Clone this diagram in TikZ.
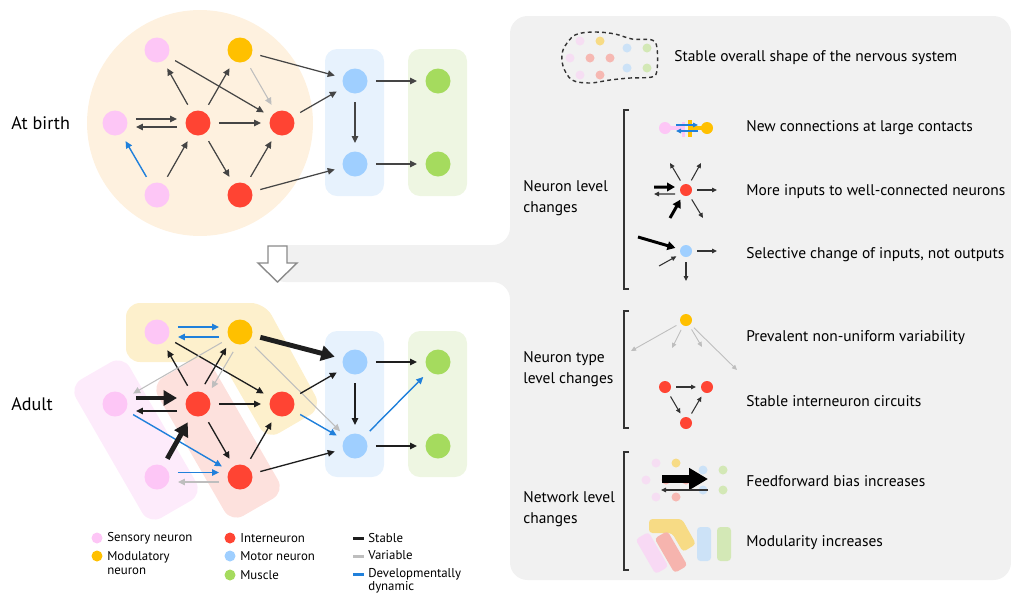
\documentclass[tikz,border=0pt]{standalone}
\usepackage{fontspec}
\setmainfont{PT Sans}
\usetikzlibrary{arrows.meta}

\definecolor{sensory}{HTML}{FDC6F6}
\definecolor{modul}{HTML}{FFC000}
\definecolor{inter}{HTML}{FF4433}
\definecolor{motor}{HTML}{9FCFFF}
\definecolor{muscle}{HTML}{A5DB5E}
\definecolor{birthgrey}{HTML}{454545}
\definecolor{stablec}{HTML}{1E1E1E}
\definecolor{varc}{HTML}{BEBEBE}
\definecolor{dync}{HTML}{2080DB}
\definecolor{panel}{HTML}{F1F1F1}
\definecolor{peach}{HTML}{FEF1DF}
\definecolor{boxblue}{HTML}{E7F2FD}
\definecolor{boxgreen}{HTML}{EEF6E2}
\definecolor{modyellow}{HTML}{FDF0CC}
\definecolor{modred}{HTML}{FDE1DD}
\definecolor{modpink}{HTML}{FDEBFB}
\definecolor{hollowgrey}{HTML}{8A8A8A}
\definecolor{inkgrey}{HTML}{333333}

\newcommand\labtext{\fontsize{10.3}{12}\selectfont}
\newcommand\paneltext{\fontsize{8.8}{11.9}\selectfont}
\newcommand\legtext{\fontsize{7.3}{7.6}\selectfont}

\tikzset{
  neuron/.style={circle, inner sep=0pt, minimum size=0.5cm, outer sep=0.17cm},
  icondot/.style={circle, inner sep=0pt, minimum size=0.24cm, outer sep=0.1cm},
  ghost/.style={circle, inner sep=0pt, minimum size=0.18cm},
  ldot/.style={circle, inner sep=0pt, minimum size=0.22cm},
  headthin/.style={-{Triangle[length=0.14cm,width=0.13cm]}},
  birth/.style={draw=birthgrey, line width=0.7pt, headthin},
  stab/.style={draw=stablec, line width=0.75pt, headthin},
  strong/.style={draw=stablec, line width=2.8pt, -{Triangle[length=0.27cm,width=0.3cm]}},
  var/.style={draw=varc, line width=0.6pt, headthin},
  dyn/.style={draw=dync, line width=0.8pt, headthin},
  module/.style={rectangle, rounded corners=0.28cm, minimum width=3.2cm, minimum height=1.24cm, rotate=-60},
  box/.style={rounded corners=0.24cm},
  smallhead/.style={-{Triangle[length=0.1cm,width=0.09cm]}},
  iconarr/.style={draw=inkgrey, line width=0.6pt, smallhead},
  iconstrong/.style={draw=black, line width=1.7pt, -{Triangle[length=0.16cm,width=0.17cm]}},
  bracket/.style={draw=inkgrey, line width=0.8pt},
  ptext/.style={anchor=west, align=left, inner sep=0pt, font=\paneltext},
  ltext/.style={anchor=west, align=left, inner sep=0pt, font=\legtext},
}

\begin{document}
\begin{tikzpicture}[x=0.02cm, y=-0.02cm]
\useasboundingbox (0,0) rectangle (1011,596);

% grey panel and bridge
\fill[panel, rounded corners=0.35cm] (268,245) -- (510,245) -- (510,16) -- (1011,16)
  -- (1011,580) -- (510,580) -- (510,282) -- (268,282) -- cycle;

% at birth
\fill[peach] (200,123) circle[radius=2.26cm];
\fill[boxblue, box] (325,49) rectangle (384,196);
\fill[boxgreen, box] (408,49) rectangle (467,196);

\node[neuron, fill=sensory] (bS1) at (157,50) {};
\node[neuron, fill=modul] (bM) at (240,50) {};
\node[neuron, fill=sensory] (bS2) at (115,123) {};
\node[neuron, fill=inter] (bI1) at (198,123) {};
\node[neuron, fill=inter] (bI2) at (282,123) {};
\node[neuron, fill=sensory] (bS3) at (157,195) {};
\node[neuron, fill=inter] (bI3) at (240,195) {};
\node[neuron, fill=motor] (bMo1) at (355,81) {};
\node[neuron, fill=motor] (bMo2) at (355,164) {};
\node[neuron, fill=muscle] (bMu1) at (438,81) {};
\node[neuron, fill=muscle] (bMu2) at (438,164) {};
\node[anchor=west, inner sep=0pt, font=\labtext] (birthlab) at (11,123) {At birth};

\draw[birth] (bI1) -- (bS1);
\draw[birth] (bI1) -- (bM);
\draw[birth] (bS1) -- (bI2);
\draw[var] (bM) -- (bI2);
\draw[birth] (bM) -- (bMo1);
\draw[birth] ([yshift=0.08cm]bS2.east) -- ([yshift=0.08cm]bI1.west);
\draw[birth] ([yshift=-0.08cm]bI1.west) -- ([yshift=-0.08cm]bS2.east);
\draw[birth] (bI1) -- (bI2);
\draw[dyn] (bS3) -- (bS2);
\draw[birth] (bS3) -- (bI1);
\draw[birth] (bI1) -- (bI3);
\draw[birth] (bI3) -- (bI2);
\draw[birth] (bI2) -- (bMo1);
\draw[birth] (bI3) -- (bMo2);
\draw[birth] (bMo1) -- (bMo2);
\draw[birth] (bMo1) -- (bMu1);
\draw[birth] (bMo2) -- (bMu2);

% hollow arrow
\draw[hollowgrey, fill=white, line width=0.8pt] (268,246) -- (287,246) -- (287,263) -- (297,263)
  -- (277.5,282) -- (258,263) -- (268,263) -- cycle;

% adult
\fill[modyellow, rounded corners=0.28cm] (126,303) -- (265,303) -- (322,408) -- (267,440)
  -- (222,362) -- (126,362) -- cycle;
\node[module, fill=modpink] (pinkmod) at (136,440) {};
\node[module, fill=modred] (redmod) at (218,438) {};
\fill[boxblue, box] (325,331) rectangle (384,477);
\fill[boxgreen, box] (408,331) rectangle (467,477);

\node[neuron, fill=sensory] (aS1) at (157,332) {};
\node[neuron, fill=modul] (aM) at (240,332) {};
\node[neuron, fill=sensory] (aS2) at (115,404) {};
\node[neuron, fill=inter] (aI1) at (198,404) {};
\node[neuron, fill=inter] (aI2) at (282,404) {};
\node[neuron, fill=sensory] (aS3) at (157,477) {};
\node[neuron, fill=inter] (aI3) at (240,477) {};
\node[neuron, fill=motor] (aMo1) at (355,362) {};
\node[neuron, fill=motor] (aMo2) at (355,446) {};
\node[neuron, fill=muscle] (aMu1) at (438,362) {};
\node[neuron, fill=muscle] (aMu2) at (438,446) {};
\node[anchor=west, inner sep=0pt, font=\labtext] (adultlab) at (11,404) {Adult};

\draw[dyn] ([yshift=0.1cm]aS1.east) -- ([yshift=0.1cm]aM.west);
\draw[dyn] ([yshift=-0.1cm]aM.west) -- ([yshift=-0.1cm]aS1.east);
\draw[strong] (aM) -- (aMo1);
\draw[stab] (aI1) -- (aS1);
\draw[stab] (aS1) -- (aI2);
\draw[stab] (aI1.71) -- (aM.229);
\draw[var] (aM.251) -- (aI1.49);
\draw[var] (aM) -- (aS2);
\draw[var] (aM) -- (aMo2);
\draw[strong] ([yshift=0.12cm]aS2.east) -- ([yshift=0.12cm]aI1.west);
\draw[stab] ([yshift=-0.14cm]aI1.west) -- ([yshift=-0.14cm]aS2.east);
\draw[dyn] (aS2) -- (aI3);
\draw[stab] (aI1) -- (aI2);
\draw[strong] (aS3) -- (aI1);
\draw[stab] (aI1) -- (aI3);
\draw[stab] (aI3) -- (aI2);
\draw[dyn] ([yshift=0.09cm]aS3.east) -- ([yshift=0.09cm]aI3.west);
\draw[var] ([yshift=-0.1cm]aI3.west) -- ([yshift=-0.1cm]aS3.east);
\draw[stab] (aI3) -- (aMo2);
\draw[stab] (aI2) -- (aMo1);
\draw[dyn] (aI2) -- (aMo2);
\draw[stab] (aMo1) -- (aMo2);
\draw[stab] (aMo1) -- (aMu1);
\draw[stab] (aMo2) -- (aMu2);
\draw[dyn] (aMo2) -- (aMu1);

% legend
\node[ldot, fill=sensory] (lgS) at (97,538) {};
\node[ldot, fill=modul] (lgM) at (97,556) {};
\node[ldot, fill=inter] (lgI) at (230,538) {};
\node[ldot, fill=motor] (lgMo) at (230,556) {};
\node[ldot, fill=muscle] (lgMu) at (230,575) {};
\node[ltext] (lgSt) at (107,538) {Sensory neuron};
\node[ltext] (lgMt) at (107,563) {Modulatory\\neuron};
\node[ltext] (lgIt) at (240,538) {Interneuron};
\node[ltext] (lgMot) at (240,556) {Motor neuron};
\node[ltext] (lgMut) at (240,575) {Muscle};
\draw[stablec, line width=1.7pt] (353,538) -- (364,538);
\draw[varc, line width=1.7pt] (353,556) -- (364,556);
\draw[dync, line width=1.7pt] (353,574) -- (364,574);
\node[ltext] (lgStab) at (368,538) {Stable};
\node[ltext] (lgVar) at (368,555) {Variable};
\node[ltext] (lgDyn) at (368,580.5) {Developmentally\\dynamic};

% right panel: overall shape
\draw[inkgrey, line width=0.8pt, dash pattern=on 2.2pt off 1.8pt]
  plot[smooth cycle, tension=0.55] coordinates {(575,35) (595,32) (615,34) (632,39) (652,40)
  (657,48) (657,70) (652,77) (630,78) (610,80) (590,83) (572,80) (563,66) (563,50)};
\foreach \gx/\gy/\gc in {580/41/sensory!45!panel, 600/41/modul!45!panel, 570/58/sensory!45!panel,
  590/58/inter!33!panel, 610/58/inter!33!panel, 580/75/sensory!45!panel, 600/75/inter!33!panel,
  627/48/motor!45!panel, 647/48/muscle!40!panel, 627/68/motor!45!panel, 647/68/muscle!40!panel}
  \node[ghost, fill=\gc] (blob-\gx-\gy) at (\gx,\gy) {};
\node[ptext] (shapetxt) at (674,58) {Stable overall shape of the nervous system};

% neuron level
\draw[bracket] (629,110) -- (624,110) -- (624,289) -- (629,289);
\node[ptext] (neurlev) at (523,198.5) {Neuron level\\changes};

\draw[sensory, line width=2.2pt] (665,128) -- (683,128);
\fill[sensory] (681.5,122) rectangle (684.5,137);
\draw[modul, line width=2.2pt] (690,128) -- (707,128);
\fill[modul] (688,120) rectangle (692,137);
\node[icondot, fill=sensory] (nP) at (665,128) {};
\node[icondot, fill=modul] (nO) at (707,128) {};
\coordinate (c1a) at (676,125); \coordinate (c1b) at (698,125);
\coordinate (c1c) at (698,131); \coordinate (c1d) at (676,131);
\draw[dync, line width=0.6pt, smallhead] (c1a) -- (c1b);
\draw[dync, line width=0.6pt, smallhead] (c1c) -- (c1d);
\node[ptext] (newcon) at (746,128) {New connections at large contacts};

\node[icondot, fill=inter] (nR) at (686,190) {};
\coordinate (r2ul) at (670,163); \coordinate (r2ur) at (701,163);
\coordinate (r2r) at (717,190); \coordinate (r2dr) at (703,218);
\coordinate (r2in1) at (654,187); \coordinate (r2in2) at (654,194);
\coordinate (r2in3) at (670,218);
\draw[iconarr] (nR) -- (r2ul);
\draw[iconarr] (nR) -- (r2ur);
\draw[iconarr] (nR) -- (r2r);
\draw[iconarr] (nR) -- (r2dr);
\draw[iconstrong] (r2in1) -- ([yshift=0.06cm]nR.west);
\draw[iconarr] ([yshift=-0.08cm]nR.west) -- (r2in2);
\draw[iconstrong] (r2in3) -- (nR);
\node[ptext] (moreinp) at (746,192) {More inputs to well-connected neurons};

\node[icondot, fill=motor] (nB) at (686,251) {};
\coordinate (r3in1) at (638,237); \coordinate (r3in2) at (659,266);
\coordinate (r3r) at (717,251); \coordinate (r3d) at (686,281);
\draw[iconstrong] (r3in1) -- (nB);
\draw[iconarr] (r3in2) -- (nB);
\draw[iconarr] (nB) -- (r3r);
\draw[iconarr] (nB) -- (r3d);
\node[ptext] (selch) at (746,255) {Selective change of inputs, not outputs};

% neuron type level
\draw[bracket] (629,311) -- (624,311) -- (624,428) -- (629,428);
\node[ptext] (typelev) at (523,369) {Neuron type\\level changes};

\node[icondot, fill=modul] (nO2) at (686,320) {};
\coordinate (t1) at (631,351); \coordinate (t2) at (672,348);
\coordinate (t3) at (702,347); \coordinate (t4) at (737,370);
\draw[varc, line width=0.5pt, smallhead] (nO2) -- (t1);
\draw[varc, line width=0.5pt, smallhead] (nO2) -- (t2);
\draw[varc, line width=0.5pt, smallhead] (nO2) -- (t3);
\draw[varc, line width=0.5pt, smallhead] (nO2) -- (t4);
\node[ptext] (prevar) at (746,338) {Prevalent non-uniform variability};

\node[icondot, fill=inter] (nI1) at (665,387) {};
\node[icondot, fill=inter] (nI2) at (707,387) {};
\node[icondot, fill=inter] (nI3) at (686,423) {};
\draw[iconarr] (nI1) -- (nI2);
\draw[iconarr] (nI1) -- (nI3);
\draw[iconarr] (nI3) -- (nI2);
\node[ptext] (stabint) at (746,401) {Stable interneuron circuits};

% network level
\draw[bracket] (629,452) -- (624,452) -- (624,570) -- (629,570);
\node[ptext] (netlev) at (523,509.5) {Network level\\changes};

\begin{scope}[shift={(76,422)}]
\foreach \gx/\gy/\gc in {580/41/sensory!45!panel, 600/41/modul!45!panel, 570/58/sensory!45!panel,
  590/58/inter!33!panel, 610/58/inter!33!panel, 580/75/sensory!45!panel, 600/75/inter!33!panel,
  627/48/motor!45!panel, 647/48/muscle!40!panel, 627/68/motor!45!panel, 647/68/muscle!40!panel}
  \node[ghost, fill=\gc] (ff-\gx-\gy) at (\gx,\gy) {};
\end{scope}
\coordinate (ffa) at (662,479); \coordinate (ffb) at (708,479);
\coordinate (ffc) at (708,490); \coordinate (ffd) at (661,490);
\draw[black, line width=4.5pt, -{Triangle[length=0.38cm,width=0.42cm]}] (ffa) -- (ffb);
\draw[iconarr] (ffc) -- (ffd);
\node[ptext] (ffbias) at (746,481) {Feedforward bias increases};

\fill[modul!45!panel, rounded corners=0.07cm] (649,519) -- (682,519) -- (696,544)
  -- (683,552) -- (672,533) -- (649,533) -- cycle;
\node[rectangle, rounded corners=0.07cm, minimum width=0.8cm, minimum height=0.3cm, rotate=-60,
  fill=sensory!55!panel] (modP) at (652,553) {};
\node[rectangle, rounded corners=0.07cm, minimum width=0.8cm, minimum height=0.3cm, rotate=-60,
  fill=inter!35!panel] (modR) at (671,552) {};
\fill[motor!45!panel, rounded corners=0.07cm] (697,527) rectangle (711,561);
\fill[muscle!40!panel, rounded corners=0.07cm] (717,527) rectangle (731,561);
\node[ptext] (modinc) at (746,543) {Modularity increases};

\end{tikzpicture}
\end{document}
